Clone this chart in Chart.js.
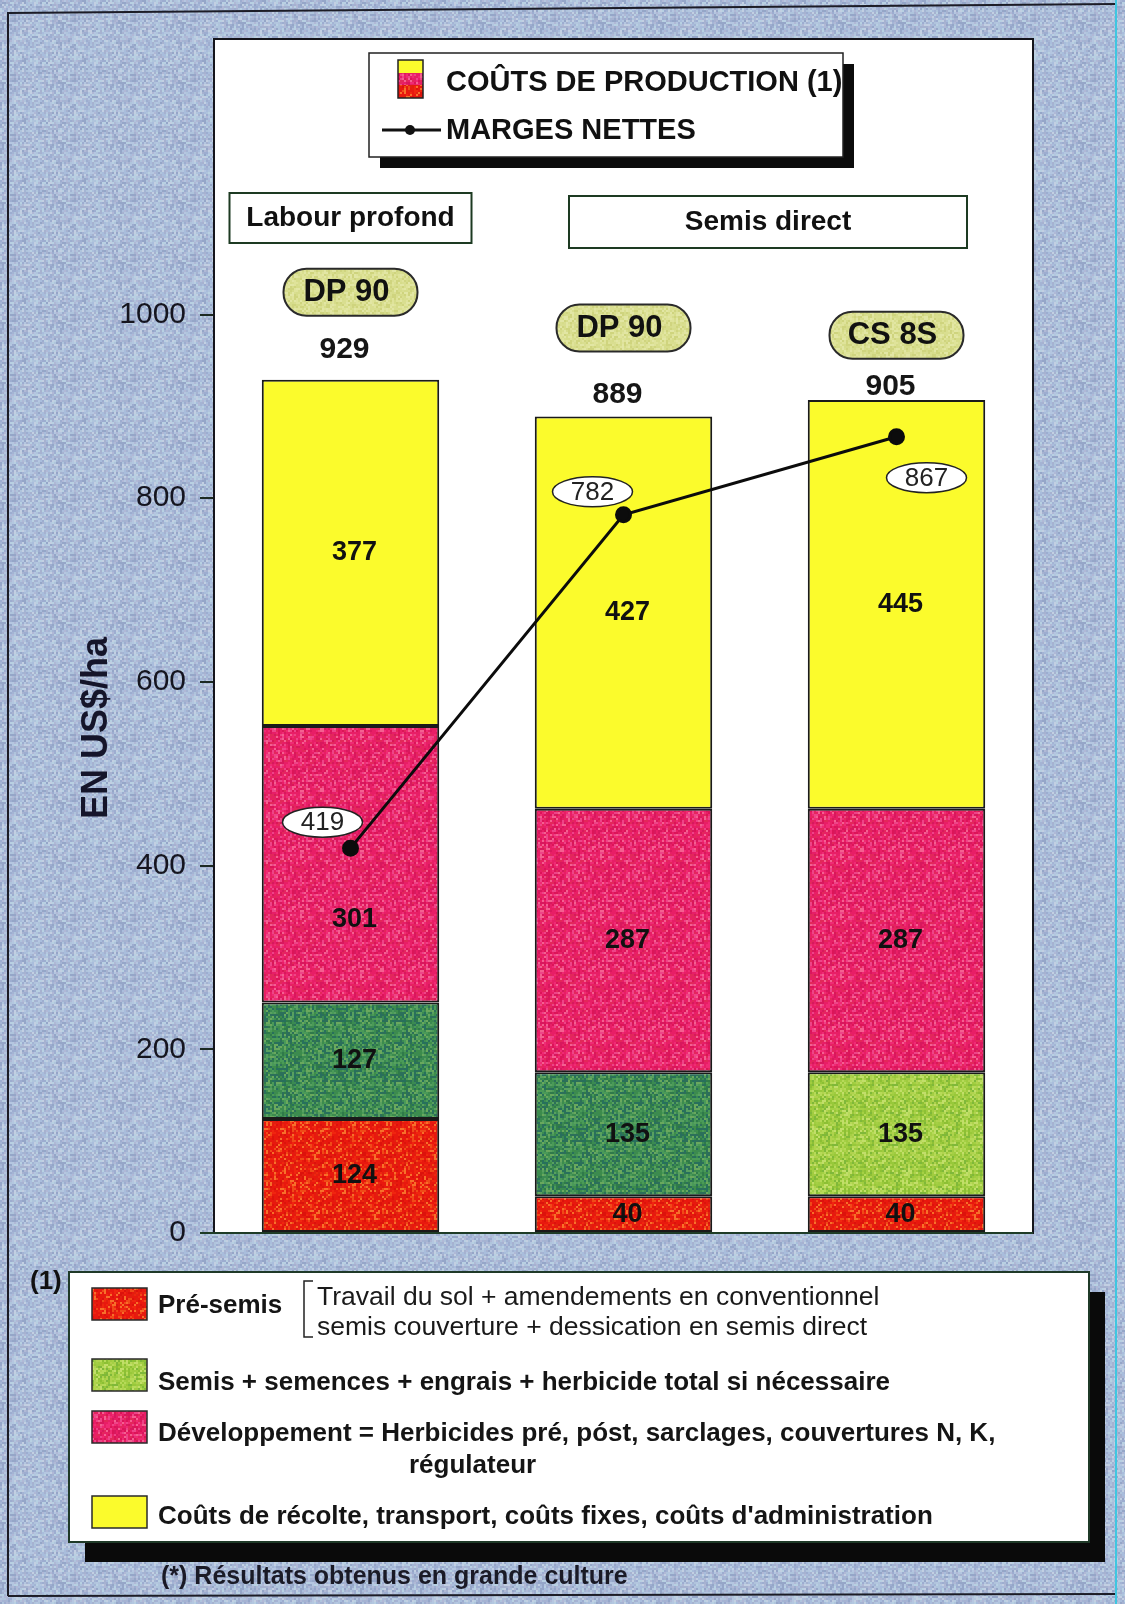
<!DOCTYPE html>
<html>
<head>
<meta charset="utf-8">
<script src="https://cdn.jsdelivr.net/npm/chart.js@4.4.1/dist/chart.umd.min.js"></script>
<style>
  html, body { margin: 0; padding: 0; background: #a9bad4; }
  canvas { display: block; }
</style>
</head>
<body>
<canvas id="chart" width="1125" height="1604"></canvas>
<script>
// costs per hectare, by stage
const varieties = ['DP 90', 'DP 90', 'CS 8S'];
const systems = ['Labour profond', 'Semis direct'];
const preSemis = [124, 40, 40];
const semis = [127, 135, 135];
const developpement = [301, 287, 287];
const recolte = [377, 427, 445];
const totals = [929, 889, 905];
const margesNettes = [419, 782, 867];
const yTicks = [0, 200, 400, 600, 800, 1000];

const yTitle = 'EN US$/ha';
const topLegend = ['COÛTS DE PRODUCTION (1)', 'MARGES NETTES'];
const stageNames = [
  'Pré-semis',
  'Semis + semences + engrais + herbicide total si nécessaire',
  'Développement = Herbicides pré, póst, sarclages, couvertures N, K,',
  'Coûts de récolte, transport, coûts fixes, coûts d\'administration'
];
const preSemisNote = ['Travail du sol + amendements en conventionnel', 'semis couverture + dessication en semis direct'];
const footnote = '(*) Résultats obtenus en grande culture';

const FONT = "'Liberation Sans', Arial, Helvetica, sans-serif";
Chart.defaults.font.family = FONT;

// cheap repeatable noise for the printed-paper speckle
function noise(i) {
  const s = Math.sin(i * 127.1 + 311.7) * 43758.5453;
  return s - Math.floor(s);
}
function speckle(colors, cell, seed) {
  const c = document.createElement('canvas');
  c.width = c.height = 60;
  const g = c.getContext('2d');
  let n = seed * 1000;
  for (let y = 0; y < 60; y += cell) {
    for (let x = 0; x < 60; x += cell) {
      g.fillStyle = colors[Math.floor(noise(n++) * colors.length)];
      g.fillRect(x, y, cell, cell);
    }
  }
  return g.createPattern(c, 'repeat');
}

const bgFill = speckle(['#a9bddc', '#b4c6e0', '#9dadd0', '#b8d0e2', '#a6b2d0', '#c2cfe2', '#95a6c8', '#afc4dc', '#a4b4d4', '#b0b8d6'], 2, 1);
const redFill = speckle(['#e8180e', '#e8180e', '#f0250f', '#dc120c', '#f04a18', '#e8180e', '#f7702a', '#e02010'], 2, 2);
const darkGreenFill = speckle(['#3b8a52', '#2f7a4a', '#4a9a58', '#2c6f5a', '#58a060', '#3d8c4c', '#27705c', '#6aa85e'], 2, 3);
const lightGreenFill = speckle(['#a4d044', '#98c83a', '#b6da58', '#8cc034', '#c2de6a', '#a0cc40', '#7fb83a', '#b0d24e'], 2, 4);
const pinkFill = speckle(['#e81e66', '#f02a74', '#dc1458', '#ee4488', '#e81e66', '#f46090', '#e2285a', '#d8185e'], 2, 5);
const yellowFill = '#fbfb2c';
const pillFill = speckle(['#d6dc8a', '#dfe39a', '#cfd47e', '#e2e6a4', '#d9de90'], 2, 6);

function roundRect(ctx, x, y, w, h, r) {
  ctx.beginPath();
  ctx.moveTo(x + r, y);
  ctx.arcTo(x + w, y, x + w, y + h, r);
  ctx.arcTo(x + w, y + h, x, y + h, r);
  ctx.arcTo(x, y + h, x, y, r);
  ctx.arcTo(x, y, x + w, y, r);
  ctx.closePath();
}

function text(ctx, str, x, y, size, bold, align) {
  ctx.font = (bold ? 'bold ' : '') + size + 'px ' + FONT;
  ctx.textAlign = align || 'left';
  ctx.textBaseline = 'middle';
  ctx.fillText(str, x, y);
}

const page = {
  id: 'page',
  beforeDraw(chart) {
    const {ctx, chartArea: a} = chart;
    ctx.save();
    ctx.fillStyle = bgFill;
    ctx.fillRect(0, 0, chart.width, chart.height);

    // scan frame
    ctx.strokeStyle = '#1c1c26';
    ctx.lineWidth = 2;
    ctx.beginPath();
    ctx.moveTo(8, 1596);
    ctx.lineTo(8, 13);
    ctx.lineTo(1116, 4);
    ctx.moveTo(8, 1596);
    ctx.lineTo(1116, 1594);
    ctx.stroke();
    ctx.strokeStyle = '#3fc6e0';
    ctx.beginPath();
    ctx.moveTo(1116, 0);
    ctx.lineTo(1116, 1604);
    ctx.stroke();

    // white plot panel
    ctx.fillStyle = '#ffffff';
    ctx.fillRect(a.left, a.top, a.right - a.left, a.bottom - a.top);
    ctx.strokeStyle = '#15151c';
    ctx.lineWidth = 2;
    ctx.strokeRect(a.left, a.top, a.right - a.left, a.bottom - a.top);

    // axis title
    ctx.translate(97, 728);
    ctx.rotate(-Math.PI / 2);
    ctx.fillStyle = '#15152a';
    text(ctx, yTitle, 0, 0, 36, true, 'center');
    ctx.restore();
  },
  afterDatasetsDraw(chart) {
    const {ctx, chartArea: a} = chart;
    const y = chart.scales.y;
    const x = chart.scales.x;
    ctx.save();

    // baseline
    ctx.strokeStyle = '#1e3c26';
    ctx.lineWidth = 2;
    ctx.beginPath();
    ctx.moveTo(a.left - 14, y.getPixelForValue(0));
    ctx.lineTo(a.right, y.getPixelForValue(0));
    ctx.stroke();

    // values inside the stacked segments
    const line = chart.getDatasetMeta(4).data;
    ctx.fillStyle = '#111';
    for (let d = 0; d < 4; d++) {
      const ds = chart.data.datasets[d];
      chart.getDatasetMeta(d).data.forEach((bar, i) => {
        let cy = (bar.y + bar.base) / 2;
        if (Math.abs(cy - line[i].y) < 45) cy += 55;
        text(ctx, String(ds.data[i]), bar.x + 4, cy, 27, true, 'center');
      });
    }

    // net margin values in ovals
    const side = [[-28, -26], [-31, -23], [30, 41]];
    line.forEach((pt, i) => {
      const cx = pt.x + side[i][0];
      const cy = pt.y + side[i][1];
      ctx.beginPath();
      ctx.ellipse(cx, cy, 40, 15, 0, 0, Math.PI * 2);
      ctx.fillStyle = '#fff';
      ctx.fill();
      ctx.strokeStyle = '#222';
      ctx.lineWidth = 1.5;
      ctx.stroke();
      ctx.fillStyle = '#222';
      text(ctx, String(margesNettes[i]), cx, cy + 1, 26, false, 'center');
    });

    // totals and variety pills above each bar
    const totalGap = [30, 22, 15];
    const pillGap = [58, 67, 52];
    const tops = chart.getDatasetMeta(3).data;
    tops.forEach((bar, i) => {
      const ty = y.getPixelForValue(totals[i]) - totalGap[i];
      ctx.fillStyle = '#161616';
      text(ctx, String(totals[i]), bar.x - 6, ty, 30, true, 'center');
      const py = ty - pillGap[i];
      roundRect(ctx, bar.x - 67, py - 23, 134, 47, 23);
      ctx.fillStyle = pillFill;
      ctx.fill();
      ctx.strokeStyle = '#2a2a2a';
      ctx.lineWidth = 2;
      ctx.stroke();
      ctx.fillStyle = '#111';
      text(ctx, varieties[i], bar.x - 4, py + 1, 31, true, 'center');
    });

    // tillage system boxes
    const b1 = x.getPixelForValue(0);
    const b2 = (x.getPixelForValue(1) + x.getPixelForValue(2)) / 2 + 8;
    const boxes = [[b1 - 121, 193, 242, 50], [b2 - 199, 196, 398, 52]];
    boxes.forEach((b, i) => {
      ctx.fillStyle = '#fff';
      ctx.fillRect(b[0], b[1], b[2], b[3]);
      ctx.strokeStyle = '#1d3a22';
      ctx.lineWidth = 2;
      ctx.strokeRect(b[0], b[1], b[2], b[3]);
      ctx.fillStyle = '#111';
      text(ctx, systems[i], b[0] + b[2] / 2, b[1] + b[3] / 2, 28, true, 'center');
    });
    ctx.restore();
  },
  afterDraw(chart) {
    const ctx = chart.ctx;
    ctx.save();

    // top legend
    ctx.fillStyle = '#0c0c0c';
    ctx.fillRect(380, 64, 474, 104);
    ctx.fillStyle = '#fff';
    ctx.fillRect(369, 53, 474, 104);
    ctx.strokeStyle = '#222';
    ctx.lineWidth = 1.5;
    ctx.strokeRect(369, 53, 474, 104);
    ctx.fillStyle = yellowFill;
    ctx.fillRect(398, 60, 25, 13);
    ctx.fillStyle = pinkFill;
    ctx.fillRect(398, 73, 25, 12);
    ctx.fillStyle = redFill;
    ctx.fillRect(398, 85, 25, 13);
    ctx.strokeRect(398, 60, 25, 38);
    ctx.fillStyle = '#111';
    text(ctx, topLegend[0], 446, 83, 29, true);
    ctx.strokeStyle = '#111';
    ctx.lineWidth = 3;
    ctx.beginPath();
    ctx.moveTo(382, 130);
    ctx.lineTo(441, 130);
    ctx.stroke();
    ctx.beginPath();
    ctx.arc(410, 130, 5, 0, Math.PI * 2);
    ctx.fill();
    text(ctx, topLegend[1], 446, 131, 29, true);

    // stage legend
    ctx.fillStyle = '#0a0a0a';
    ctx.fillRect(85, 1292, 1020, 270);
    ctx.fillStyle = '#fff';
    ctx.fillRect(69, 1272, 1020, 270);
    ctx.strokeStyle = '#1f3a28';
    ctx.lineWidth = 2;
    ctx.strokeRect(69, 1272, 1020, 270);

    ctx.fillStyle = '#111';
    text(ctx, '(1)', 30, 1282, 26, true);

    const swatches = [[redFill, 1288], [lightGreenFill, 1359], [pinkFill, 1411], [yellowFill, 1496]];
    const rows = [1306, 1383, 1434, 1517];
    swatches.forEach((s, i) => {
      ctx.fillStyle = s[0];
      ctx.fillRect(92, s[1], 55, 32);
      ctx.strokeStyle = '#2a2a2a';
      ctx.lineWidth = 1.5;
      ctx.strokeRect(92, s[1], 55, 32);
      ctx.fillStyle = '#151515';
      text(ctx, stageNames[i], 158, rows[i], 26, true);
    });
    text(ctx, 'régulateur', 409, 1466, 26, true);

    ctx.strokeStyle = '#222';
    ctx.lineWidth = 1.5;
    ctx.beginPath();
    ctx.moveTo(313, 1281);
    ctx.lineTo(304, 1281);
    ctx.lineTo(304, 1337);
    ctx.lineTo(313, 1337);
    ctx.stroke();
    ctx.fillStyle = '#1a1a1a';
    text(ctx, preSemisNote[0], 317, 1298, 26.5, false);
    text(ctx, preSemisNote[1], 317, 1328, 26.5, false);

    ctx.fillStyle = '#1a1a26';
    text(ctx, footnote, 161, 1577, 25, true);
    ctx.restore();
  }
};

new Chart(document.getElementById('chart'), {
  type: 'bar',
  data: {
    labels: varieties,
    datasets: [
      { label: stageNames[0], data: preSemis, backgroundColor: redFill, stack: 'costs', order: 1 },
      { label: stageNames[1], data: semis, backgroundColor: [darkGreenFill, darkGreenFill, lightGreenFill], stack: 'costs', order: 1 },
      { label: stageNames[2], data: developpement, backgroundColor: pinkFill, stack: 'costs', order: 1 },
      { label: stageNames[3], data: recolte, backgroundColor: yellowFill, stack: 'costs', order: 1 },
      {
        type: 'line', label: topLegend[1], data: margesNettes, stack: 'marges', order: 0,
        borderColor: '#0c0c0c', borderWidth: 3, pointRadius: 7,
        pointBackgroundColor: '#0c0c0c', pointBorderColor: '#0c0c0c', tension: 0
      }
    ].map(ds => ds.type ? ds : Object.assign(ds, { borderColor: '#1a1a1a', borderWidth: 2, borderSkipped: false }))
  },
  options: {
    responsive: false,
    devicePixelRatio: 1,
    animation: false,
    layout: { padding: { left: 0, right: 92, top: 39, bottom: 371 } },
    categoryPercentage: 1,
    barPercentage: 0.65,
    plugins: { legend: { display: false }, tooltip: { enabled: false } },
    scales: {
      x: { display: false, stacked: true },
      y: {
        stacked: true,
        min: 0,
        max: 1300,
        afterFit(scale) { scale.width = 214; },
        afterBuildTicks(scale) { scale.ticks = yTicks.map(v => ({ value: v })); },
        grid: { drawOnChartArea: false, tickLength: 14, color: '#1c2a22', lineWidth: 2 },
        border: { display: true, color: '#15151c', width: 2 },
        ticks: { padding: 14, color: '#15151f', font: { size: 30 }, callback: v => String(v) }
      }
    }
  },
  plugins: [page]
});
</script>
</body>
</html>
